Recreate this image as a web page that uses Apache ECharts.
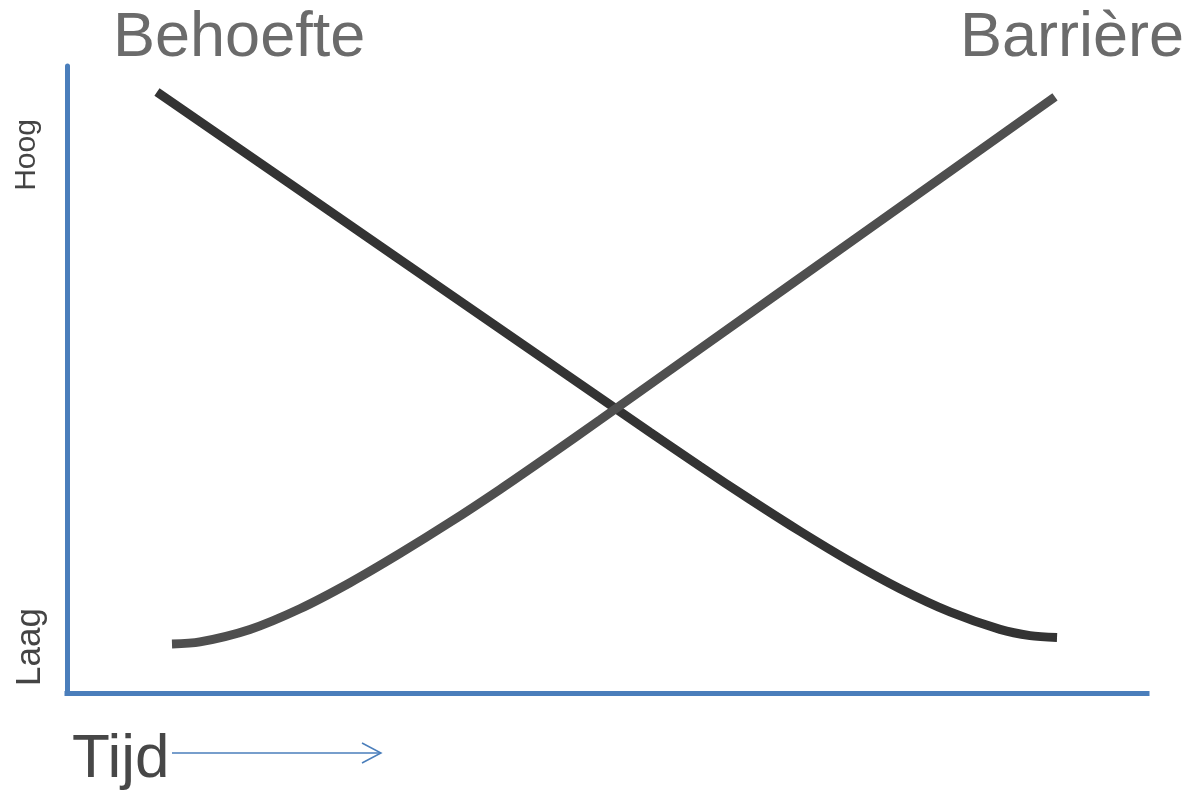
<!DOCTYPE html>
<html>
<head>
<meta charset="utf-8">
<script src="https://cdn.jsdelivr.net/npm/echarts@6/dist/echarts.min.js"></script>
<style>
  html, body {margin: 0; padding: 0; background: #fff;}
  #main {width: 1190px; height: 795px;}
</style>
</head>
<body>
<div id="main"></div>
<script>
// tijd (0-100) en niveau (0 = laag, 100 = hoog)
const behoefteX = [8.33, 30.83, 53.98, 58.61, 63.24, 67.87, 72.50, 77.13, 81.76, 86.39, 89.17, 91.67];
const behoefteY = [95.85, 69.11, 41.59, 36.16, 30.88, 25.79, 20.99, 16.63, 12.93, 10.14, 9.15, 8.85];
const barriereX = [9.72, 12.31, 16.94, 21.57, 26.20, 30.83, 35.46, 40.09, 44.72, 49.35, 58.61, 75.28, 91.48];
const barriereY = [7.81, 8.15, 10.14, 13.44, 17.59, 22.26, 27.22, 32.47, 37.96, 43.56, 54.88, 75.26, 95.07];
const seriesNames = ['Behoefte', 'Barrière'];
const levelLabels = ['Hoog', 'Laag'];
const timeLabel = 'Tijd';

const axisBlue = '#4a7ebb';
const font = 'Liberation Sans, Arial, sans-serif';

const pairs = (xs, ys) => xs.map((x, i) => [x, ys[i]]);

let myChart = echarts.init(document.getElementById('main'));

const option = {
    animation: false,
    backgroundColor: '#fff',
    grid: {left: 67, right: 43, top: 66, bottom: 102},
    xAxis: {
        type: 'value', min: 0, max: 100,
        axisLine: {lineStyle: {color: axisBlue, width: 5, cap: 'square'}},
        axisTick: {show: false}, axisLabel: {show: false}, splitLine: {show: false}
    },
    yAxis: {
        type: 'value', min: 0, max: 100,
        axisLine: {show: true, lineStyle: {color: axisBlue, width: 5}},
        axisTick: {show: false}, axisLabel: {show: false}, splitLine: {show: false}
    },
    series: [
        {
            name: seriesNames[0], type: 'line', smooth: 0.3, showSymbol: false,
            lineStyle: {color: '#333333', width: 9, cap: 'butt'},
            data: pairs(behoefteX, behoefteY)
        },
        {
            name: seriesNames[1], type: 'line', smooth: 0.3, showSymbol: false,
            lineStyle: {color: '#4f4f4f', width: 9, cap: 'butt'},
            data: pairs(barriereX, barriereY)
        }
    ],
    graphic: [
        // titels boven de lijnen
        {type: 'text', x: 113, y: 39, style: {text: seriesNames[0], font: '63px ' + font, fill: '#6b6b6b', align: 'left', verticalAlign: 'middle'}},
        {type: 'text', x: 1184, y: 39, style: {text: seriesNames[1], font: '63px ' + font, fill: '#6b6b6b', align: 'right', verticalAlign: 'middle'}},
        // y-as labels, gedraaid
        {type: 'text', x: 27, y: 155, rotation: Math.PI / 2, style: {text: levelLabels[0], font: '30px ' + font, fill: '#444', align: 'center', verticalAlign: 'middle'}},
        {type: 'text', x: 30, y: 647, rotation: Math.PI / 2, style: {text: levelLabels[1], font: '35px ' + font, fill: '#444', align: 'center', verticalAlign: 'middle'}},
        // tijd met pijl
        {type: 'text', x: 72, y: 760, style: {text: timeLabel, font: '62px ' + font, fill: '#474747', align: 'left', verticalAlign: 'middle'}},
        {type: 'line', shape: {x1: 172, y1: 753, x2: 381, y2: 753}, style: {stroke: axisBlue, lineWidth: 1.5}},
        {type: 'polyline', shape: {points: [[362, 743], [381, 753], [362, 763]]}, style: {stroke: axisBlue, lineWidth: 1.5, fill: null}}
    ]
};

myChart.setOption(option);
window.addEventListener('resize', function () {
    myChart.resize();
});
</script>
</body>
</html>
